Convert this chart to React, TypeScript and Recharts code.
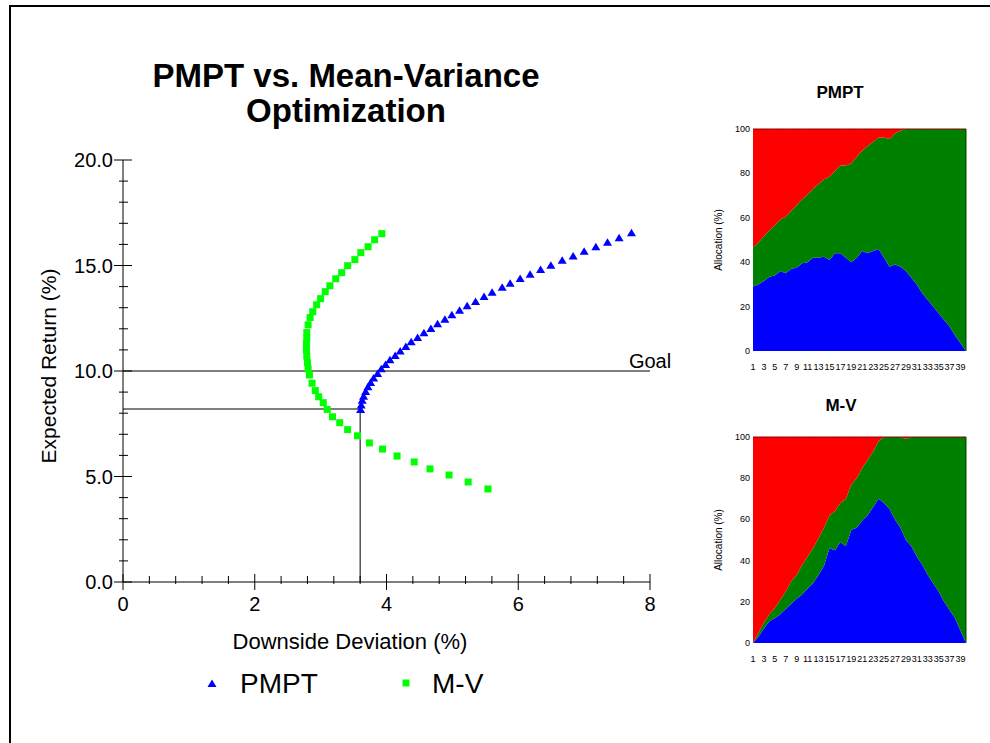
import { ScatterChart, Scatter, XAxis, YAxis, ReferenceLine, AreaChart, Area } from "recharts";

const FONT = 'Arial, "Liberation Sans", sans-serif';

// efficient frontiers: downside deviation (%) vs expected return (%)
const pmptDev = [
    3.607, 3.616, 3.631, 3.652, 3.683, 3.718, 3.759, 3.804, 3.865, 3.92,
    3.986, 4.052, 4.132, 4.208, 4.294, 4.375, 4.472, 4.568, 4.674, 4.775,
    4.886, 4.992, 5.109, 5.224, 5.352, 5.481, 5.603, 5.756, 5.877, 6.029,
    6.18, 6.339, 6.495, 6.667, 6.833, 7.0, 7.178, 7.355, 7.531, 7.719,
];
const pmptRet = [
    8.15, 8.36, 8.59, 8.78, 9.0, 9.23, 9.43, 9.64, 9.86, 10.08,
    10.28, 10.51, 10.71, 10.93, 11.14, 11.36, 11.56, 11.79, 11.99, 12.21,
    12.43, 12.64, 12.86, 13.07, 13.27, 13.51, 13.71, 13.95, 14.14, 14.36,
    14.56, 14.79, 14.99, 15.23, 15.43, 15.65, 15.86, 16.08, 16.29, 16.53,
];
const mvDev = [
    5.54, 5.24, 4.95, 4.66, 4.42, 4.16, 3.94, 3.74, 3.56, 3.41,
    3.29, 3.18, 3.1, 3.04, 2.97, 2.92, 2.87, 2.83, 2.81, 2.8,
    2.79, 2.785, 2.785, 2.79, 2.79, 2.81, 2.84, 2.88, 2.94, 3.0,
    3.07, 3.14, 3.23, 3.32, 3.41, 3.52, 3.61, 3.72, 3.82, 3.93,
];
const mvRet = [
    4.41, 4.74, 5.07, 5.36, 5.69, 5.97, 6.3, 6.59, 6.93, 7.22,
    7.55, 7.83, 8.18, 8.5, 8.78, 9.07, 9.42, 9.81, 10.1, 10.4,
    10.7, 11.0, 11.28, 11.55, 11.82, 12.19, 12.53, 12.81, 13.14, 13.43,
    13.76, 14.04, 14.37, 14.66, 14.99, 15.28, 15.61, 15.89, 16.22, 16.51,
];

const xTicks = [0, 0.4, 0.8, 1.2, 1.6, 2, 2.4, 2.8, 3.2, 3.6, 4, 4.4, 4.8, 5.2, 5.6, 6, 6.4, 6.8, 7.2, 7.6, 8];
const xMajor = [0, 2, 4, 6, 8];
const yTicks = [0, 1, 2, 3, 4, 5, 6, 7, 8, 9, 10, 11, 12, 13, 14, 15, 16, 17, 18, 19, 20];
const yMajor = [0, 5, 10, 15, 20];

const goalReturn = 10;
const pickReturn = 8.2;
const pickDev = 3.6;

// allocation panels (% of portfolio per frontier point)
const periods = [
    1, 2, 3, 4, 5, 6, 7, 8, 9, 10, 11, 12, 13, 14, 15, 16, 17, 18, 19, 20,
    21, 22, 23, 24, 25, 26, 27, 28, 29, 30, 31, 32, 33, 34, 35, 36, 37, 38, 39, 40,
];
const periodTicks = [1, 3, 5, 7, 9, 11, 13, 15, 17, 19, 21, 23, 25, 27, 29, 31, 33, 35, 37, 39];
const allocTicks = [0, 20, 40, 60, 80, 100];

const pmptBlue = [
    29, 30, 31.5, 33.5, 34, 36, 35, 37, 37.5, 39.5, 40, 42, 42, 42.5, 41, 44, 44, 42, 40, 42,
    45, 44, 45, 46, 42, 38, 39, 38, 36, 33, 30, 26, 23, 20, 17, 14, 11, 7, 3.5, 0,
];
const pmptGreen = [
    17.6, 18.9, 20.2, 20.9, 22.5, 23.2, 25.5, 26.2, 28.2, 28.8, 30.5, 31.1, 33.2, 34.9, 37.5, 37.1, 39.6, 41.6, 44.5, 45.5,
    45.2, 48.3, 49.3, 50.2, 54.2, 57.5, 59, 61.2, 64, 67, 70, 74, 77, 80, 83, 86, 89, 93, 96.5, 100,
];
const pmptRed = [
    53.4, 51.1, 48.3, 45.6, 43.5, 40.8, 39.5, 36.8, 34.3, 31.7, 29.5, 26.9, 24.8, 22.6, 21.5, 18.9, 16.4, 16.4, 15.5, 12.5,
    9.8, 7.7, 5.7, 3.8, 3.8, 4.5, 2, 0.8, 0, 0, 0, 0, 0, 0, 0, 0, 0, 0, 0, 0,
];

const mvBlue = [
    0, 3, 7, 10.5, 12, 14, 16.5, 19, 21.5, 23.5, 26.5, 29, 33, 37.5, 46, 45, 49, 47, 55, 56,
    59.5, 62, 66, 70, 68, 65, 60, 56, 50, 47, 42, 38, 33, 29, 25, 20, 16, 12, 6, 0,
];
const mvGreen = [
    0, 2, 3, 3.5, 5, 7, 8.5, 11, 11.5, 14.5, 15.5, 17, 18, 18.5, 16, 19, 19, 23, 22, 24,
    25.5, 27, 27, 28, 32, 35, 40, 44, 49, 53, 58, 62, 67, 71, 75, 80, 84, 88, 94, 100,
];
const mvRed = [
    100, 95, 90, 86, 83, 79, 75, 70, 67, 62, 58, 54, 49, 44, 38, 36, 32, 30, 23, 20,
    15, 11, 7, 2, 0, 0, 0, 0, 1, 0, 0, 0, 0, 0, 0, 0, 0, 0, 0, 0,
];

const COLORS = {
    pmpt: "#0000ff",
    mv: "#00ff00",
    blue: "#0000ff",
    green: "#008000",
    red: "#ff0000",
};

const pmptData = pmptDev.map((dev, i) => ({ dev, ret: pmptRet[i] }));
const mvData = mvDev.map((dev, i) => ({ dev, ret: mvRet[i] }));

const buildAlloc = (blue: number[], green: number[], red: number[]) =>
    periods.map((k, i) => ({ k, blue: blue[i], green: green[i], red: red[i] }));

const Triangle = ({ cx, cy, fill }: any) => (
    <polygon points={`${cx},${cy - 4.5} ${cx - 4.5},${cy + 3} ${cx + 4.5},${cy + 3}`} fill={fill} />
);

const Square = ({ cx, cy, fill }: any) => (
    <rect x={cx - 3.5} y={cy - 3.5} width={7} height={7} fill={fill} />
);

// ticks: majors cross the axis and carry a label, minors are short marks
const MainXTick = ({ x, y, payload }: any) => {
    const major = xMajor.includes(payload.value);
    return (
        <g>
            <line x1={x} x2={x} y1={y - (major ? 8 : 6)} y2={y + (major ? 8 : 2)} stroke="#000" />
            {major && (
                <text x={x} y={y + 29} textAnchor="middle" fontSize={20} fill="#000" fontFamily={FONT}>
                    {payload.value}
                </text>
            )}
        </g>
    );
};

const MainYTick = ({ x, y, payload }: any) => {
    const major = yMajor.includes(payload.value);
    return (
        <g>
            <line x1={x - (major ? 9 : 4)} x2={x + (major ? 9 : 5)} y1={y} y2={y} stroke="#000" />
            {major && (
                <text x={x - 10} y={y + 7} textAnchor="end" fontSize={20} fill="#000" fontFamily={FONT}>
                    {payload.value.toFixed(1)}
                </text>
            )}
        </g>
    );
};

const XTitle = () => (
    <text x={350} y={649} textAnchor="middle" fontSize={22} fill="#000" fontFamily={FONT}>
        Downside Deviation (%)
    </text>
);

const YTitle = () => (
    <text transform="translate(56,366) rotate(-90)" textAnchor="middle" fontSize={21} fill="#000" fontFamily={FONT}>
        Expected Return (%)
    </text>
);

const GoalLabel = ({ viewBox }: any) => (
    <text x={viewBox.x + viewBox.width} y={viewBox.y - 3} textAnchor="middle" fontSize={20} fill="#000" fontFamily={FONT}>
        Goal
    </text>
);

const SmallXTick = ({ x, y, payload }: any) => (
    <text x={x} y={y + 19} textAnchor="middle" fontSize={9} fill="#000" fontFamily={FONT}>
        {payload.value}
    </text>
);

const SmallYTick = ({ x, y, payload }: any) => (
    <text x={x - 3} y={y + 3} textAnchor="end" fontSize={9} fill="#000" fontFamily={FONT}>
        {payload.value}
    </text>
);

interface PanelProps {
    data: { k: number; blue: number; green: number; red: number }[];
    top: number;
    marginTop: number;
    marginBottom: number;
}

const AllocationPanel = ({ data, top, marginTop, marginBottom }: PanelProps) => (
    <div style={{ position: "absolute", left: 690, top }}>
        <AreaChart
            width={300}
            height={310}
            data={data}
            margin={{ top: marginTop, right: 24, bottom: marginBottom, left: 23 }}
        >
            <XAxis
                type="number"
                dataKey="k"
                domain={[1, 40]}
                ticks={periodTicks}
                interval={0}
                height={20}
                tickSize={0}
                tickMargin={0}
                axisLine={false}
                tickLine={false}
                tick={<SmallXTick />}
            />
            <YAxis
                type="number"
                domain={[0, 100]}
                ticks={allocTicks}
                interval={0}
                width={40}
                tickSize={0}
                tickMargin={0}
                axisLine={false}
                tickLine={false}
                tick={<SmallYTick />}
            />
            <Area type="linear" dataKey="blue" stackId="a" fill={COLORS.blue} fillOpacity={1} stroke="none" isAnimationActive={false} />
            <Area type="linear" dataKey="green" stackId="a" fill={COLORS.green} fillOpacity={1} stroke="none" isAnimationActive={false} />
            <Area type="linear" dataKey="red" stackId="a" fill={COLORS.red} fillOpacity={1} stroke="#8b0000" strokeWidth={1} isAnimationActive={false} />
            <ReferenceLine x={40} stroke="#004000" strokeWidth={1} />
        </AreaChart>
    </div>
);

export default function App() {
    return (
        <div
            style={{
                position: "absolute",
                left: 0,
                top: 0,
                width: 990,
                height: 743,
                background: "#fff",
                overflow: "hidden",
                fontFamily: FONT,
            }}
        >
            <div
                style={{
                    position: "absolute",
                    left: 9,
                    top: 5,
                    width: 990,
                    height: 743,
                    borderTop: "2px solid #000",
                    borderLeft: "2px solid #000",
                }}
            />

            <div style={{ position: "absolute", left: 0, top: 0 }}>
                <ScatterChart width={700} height={743} margin={{ top: 160, right: 50, bottom: 81, left: 23 }}>
                    <XAxis
                        type="number"
                        dataKey="dev"
                        domain={[0, 8]}
                        ticks={xTicks}
                        interval={0}
                        height={80}
                        tickSize={0}
                        tickMargin={0}
                        tickLine={false}
                        axisLine={{ stroke: "#000" }}
                        tick={<MainXTick />}
                        label={<XTitle />}
                    />
                    <YAxis
                        type="number"
                        dataKey="ret"
                        domain={[0, 20]}
                        ticks={yTicks}
                        interval={0}
                        width={100}
                        tickSize={0}
                        tickMargin={0}
                        tickLine={false}
                        axisLine={{ stroke: "#000" }}
                        tick={<MainYTick />}
                        label={<YTitle />}
                    />
                    <ReferenceLine y={goalReturn} stroke="#555" strokeWidth={1.5} label={<GoalLabel />} />
                    <ReferenceLine
                        segment={[{ x: 0, y: pickReturn }, { x: pickDev, y: pickReturn }]}
                        stroke="#555"
                        strokeWidth={1.5}
                    />
                    <ReferenceLine
                        segment={[{ x: pickDev, y: 0 }, { x: pickDev, y: pickReturn }]}
                        stroke="#000"
                        strokeWidth={1}
                    />
                    <Scatter
                        name="PMPT"
                        data={pmptData}
                        fill={COLORS.pmpt}
                        isAnimationActive={false}
                        shape={(p: any) => <Triangle cx={p.cx} cy={p.cy} fill={COLORS.pmpt} />}
                    />
                    <Scatter
                        name="M-V"
                        data={mvData}
                        fill={COLORS.mv}
                        isAnimationActive={false}
                        shape={(p: any) => <Square cx={p.cx} cy={p.cy} fill={COLORS.mv} />}
                    />
                </ScatterChart>
            </div>

            <AllocationPanel data={buildAlloc(pmptBlue, pmptGreen, pmptRed)} top={70} marginTop={59} marginBottom={9} />
            <AllocationPanel data={buildAlloc(mvBlue, mvGreen, mvRed)} top={380} marginTop={57} marginBottom={27} />

            {/* titles, panel labels and legend */}
            <svg
                width={990}
                height={743}
                style={{ position: "absolute", left: 0, top: 0, pointerEvents: "none" }}
                fontFamily={FONT}
            >
                <text x={346} y={87} textAnchor="middle" fontSize={33} fontWeight="bold" fill="#000">
                    PMPT vs. Mean-Variance
                </text>
                <text x={346} y={122} textAnchor="middle" fontSize={33} fontWeight="bold" fill="#000">
                    Optimization
                </text>

                <text x={840} y={98} textAnchor="middle" fontSize={17} fontWeight="bold" fill="#000">
                    PMPT
                </text>
                <text x={841} y={411} textAnchor="middle" fontSize={17} fontWeight="bold" fill="#000">
                    M-V
                </text>
                <text transform="translate(722,240) rotate(-90)" textAnchor="middle" fontSize={10} fill="#000">
                    Allocation (%)
                </text>
                <text transform="translate(722,540) rotate(-90)" textAnchor="middle" fontSize={10} fill="#000">
                    Allocation (%)
                </text>

                <Triangle cx={212} cy={684} fill={COLORS.pmpt} />
                <text x={240} y={693} fontSize={28} fill="#000">
                    PMPT
                </text>
                <Square cx={406} cy={683} fill={COLORS.mv} />
                <text x={432} y={693} fontSize={28} fill="#000">
                    M-V
                </text>
            </svg>
        </div>
    );
}
